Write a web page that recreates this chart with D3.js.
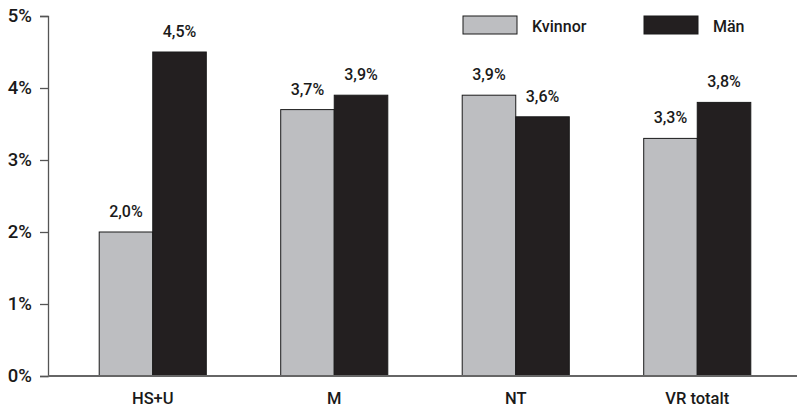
<!DOCTYPE html>
<html>
<head>
<meta charset="utf-8">
<script src="https://cdn.jsdelivr.net/npm/d3@7"></script>
<style>
  html, body { margin: 0; padding: 0; background: #fff; }
  svg { display: block; font-family: Roboto, "Open Sans", sans-serif; }
</style>
</head>
<body>
<svg id="chart" width="798" height="409"></svg>
<script>
// Andel per grupp och kön
const categories = ["HS+U", "M", "NT", "VR totalt"];
const seriesNames = ["Kvinnor", "Män"];
const kvinnor = [2.0, 3.7, 3.9, 3.3];
const man = [4.5, 3.9, 3.6, 3.8];
const yTicks = [0, 1, 2, 3, 4, 5];
const colors = ["#bdbec1", "#231f20"];

const svg = d3.select("#chart");
const axisX0 = 48, axisX1 = 797;
const y = d3.scaleLinear().domain([0, 5]).range([376, 16]);

const x0 = d3.scaleBand().domain(categories).range([62, 788]).paddingInner(0.41).paddingOuter(0.205);
const x1 = d3.scaleBand().domain(seriesNames).range([0, x0.bandwidth()]);

const series = [kvinnor, man];
const fmt = v => d3.format(".1f")(v).replace(".", ",") + "%";
const font = "Roboto, 'Open Sans', sans-serif";

// Staplar
const groups = svg.append("g").selectAll("g")
  .data(categories)
  .join("g")
  .attr("transform", d => `translate(${x0(d)},0)`);

groups.selectAll("rect")
  .data((d, i) => seriesNames.map((s, j) => ({ s, v: series[j][i] })))
  .join("rect")
  .attr("x", d => x1(d.s))
  .attr("y", d => y(d.v))
  .attr("width", x1.bandwidth())
  .attr("height", d => y(0) - y(d.v))
  .attr("fill", (d, j) => colors[j])
  .attr("stroke", "#1a1a1a")
  .attr("stroke-width", 1);

// Värdeetiketter
groups.selectAll("text")
  .data((d, i) => seriesNames.map((s, j) => ({ s, v: series[j][i] })))
  .join("text")
  .attr("x", d => x1(d.s) + x1.bandwidth() / 2)
  .attr("y", d => y(d.v) - 15)
  .attr("text-anchor", "middle")
  .attr("font-size", 16)
  .attr("font-weight", 500)
  .attr("fill", "#1a1a1a")
  .text(d => fmt(d.v));

// Y-axel
const yAxis = d3.axisLeft(y).tickValues(yTicks).tickSize(8).tickPadding(8)
  .tickFormat(d => d + "%");
const gy = svg.append("g").attr("transform", `translate(${axisX0},0)`).call(yAxis);
gy.select(".domain").attr("stroke", "#555").attr("stroke-width", 1.3);
gy.selectAll(".tick line").attr("stroke", "#555").attr("stroke-width", 1.3);
gy.selectAll(".tick text").attr("font-size", 18.5).attr("font-weight", 500)
  .attr("fill", "#1a1a1a").attr("font-family", font);

// X-axel
svg.append("line")
  .attr("x1", axisX0).attr("x2", axisX1)
  .attr("y1", y(0)).attr("y2", y(0))
  .attr("stroke", "#666").attr("stroke-width", 2);

const xAxis = d3.axisBottom(x0).tickSize(0).tickPadding(16);
const gx = svg.append("g").attr("transform", `translate(0,${y(0)})`).call(xAxis);
gx.select(".domain").remove();
gx.selectAll(".tick text").attr("font-size", 16.5).attr("font-weight", 500)
  .attr("fill", "#1a1a1a").attr("font-family", font);

// Teckenförklaring
const legendX = [463, 644];
const legend = svg.append("g").selectAll("g")
  .data(seriesNames)
  .join("g")
  .attr("transform", (d, i) => `translate(${legendX[i]},16)`);
legend.append("rect")
  .attr("width", 54).attr("height", 18)
  .attr("fill", (d, i) => colors[i])
  .attr("stroke", "#1a1a1a").attr("stroke-width", 1);
legend.append("text")
  .attr("x", 69).attr("y", 16)
  .attr("font-size", 16)
  .attr("font-weight", 500)
  .attr("fill", "#1a1a1a")
  .text(d => d);
</script>
</body>
</html>
